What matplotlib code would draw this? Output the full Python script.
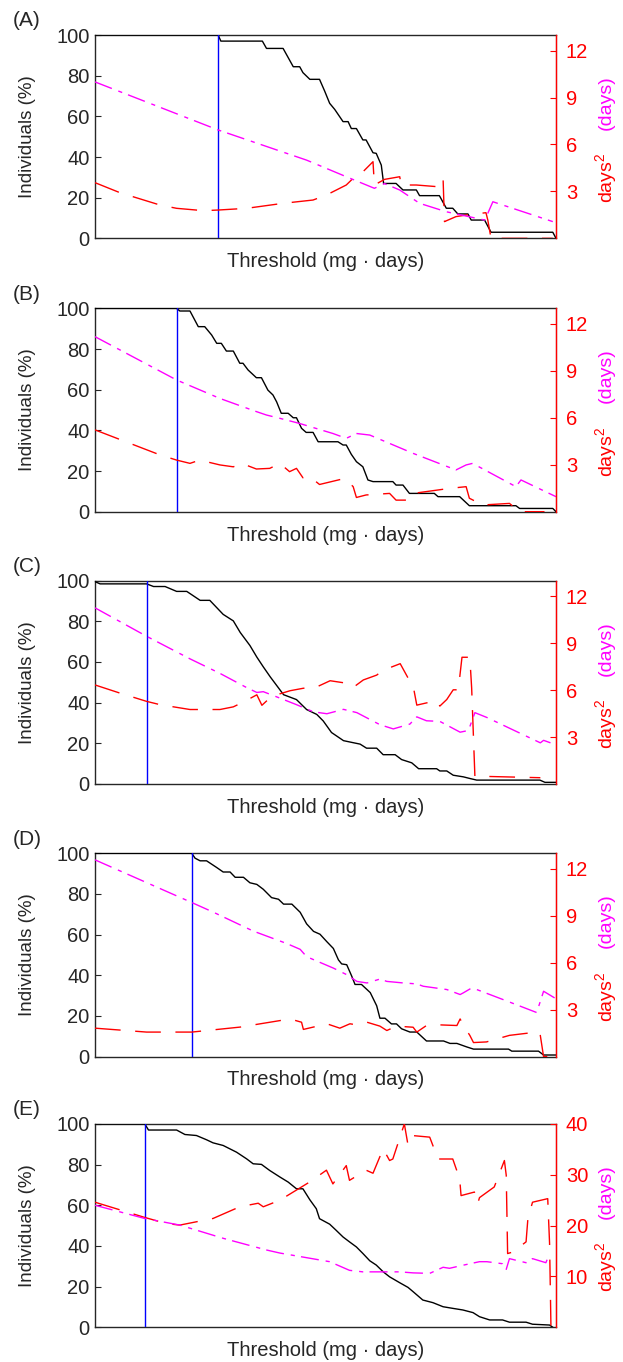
import matplotlib
matplotlib.use('Agg')
import matplotlib.pyplot as plt

plt.rcParams['font.family'] = ['Liberation Sans', 'DejaVu Sans']
plt.rcParams['mathtext.fontset'] = 'custom'
plt.rcParams['mathtext.rm'] = 'Liberation Sans'
plt.rcParams['lines.scale_dashes'] = False

panel_labels = ['(A)', '(B)', '(C)', '(D)', '(E)']
thresholds = [26.7, 17.7, 11.35, 21.0, 10.8]
right_tops = [13, 13, 13, 13, 40]
right_ticks_small = [3, 6, 9, 12]
right_ticks_large = [10, 20, 30, 40]
left_ticks = [0, 20, 40, 60, 80, 100]

# ---------------- Panel A ----------------
black_x_A = [0, 26.7, 27.3, 36.3, 37.2, 40.8, 43.0, 44.4, 45.1, 46.6, 48.7, 49.8, 50.9, 52.0, 53.8,
             54.9, 55.6, 56.7, 58.1, 58.8, 60.3, 61.0, 62.1, 62.6, 65.3, 66.8, 69.7, 70.4, 74.7,
             76.2, 77.6, 78.7, 80.9, 81.6, 84.5, 85.9, 99.3, 100]
black_y_A = [100, 100, 97, 97, 93.4, 93.4, 84.4, 84.4, 81.5, 78.2, 78.2, 72.5, 66.4, 63.4, 57.4,
             57.4, 54, 54, 48.4, 48.4, 42.1, 41.8, 36, 27, 27, 23.8, 23.8, 21, 21,
             14.8, 14.8, 12, 12, 9, 9, 3, 3, 0]
mag_x_A = [0, 26.7, 45.9, 54.5, 60.6, 62.8, 66.1, 70.4, 76.2, 84.5, 85.2, 86.3, 99.3]
mag_y_A = [10.0, 6.93, 5.0, 3.94, 3.2, 3.5, 3.09, 2.24, 1.70, 1.17, 1.6, 2.34, 1.07]
red_x_A = [0, 5.4, 14.1, 17.7, 23.5, 26.7, 32.9, 40.8, 47.3, 50.2, 54.5, 56.0, 57.8, 60.3, 60.6,
           62.8, 66.1, 66.4, 69.7, 74.4, 75.5, 75.8, 78.3, 80.5, 84.8, 85.2, 85.9, 99.3]
red_y_A = [3.56, 2.92, 2.13, 1.92, 1.77, 1.81, 1.92, 2.24, 2.45, 2.77, 3.41, 3.84, 4.16, 4.9, 3.41,
           3.77, 3.94, 3.41, 3.41, 3.3, 3.84, 1.07, 1.39, 1.49, 1.64, 1.17, 0, 0]

# ---------------- Panel B ----------------
black_x_B = [0, 17.7, 18.4, 20.6, 22.4, 23.8, 25.3, 26.4, 27.4, 28.5, 30.0, 31.4, 32.1, 33.2, 35.0,
             36.1, 37.5, 38.6, 39.4, 40.4, 41.9, 43.0, 43.7, 44.8, 45.8, 47.3, 48.4, 52.7, 53.8,
             54.5, 55.6, 56.7, 58.1, 59.2, 60.3, 64.6, 65.3, 66.8, 68.2, 73.6, 74.4, 79.1, 81.2,
             91.3, 92.1, 99.3, 100]
black_y_B = [100, 100, 98.7, 98.7, 91, 91, 86.9, 82.8, 82.8, 79, 79, 73, 73, 69.7, 65.9,
             65.9, 59.8, 57.4, 54, 48.4, 48.4, 46.2, 46.2, 41, 39, 39, 34.4, 34.4, 32.8,
             32.8, 28.2, 24.6, 22.1, 15.6, 14.8, 14.8, 13.1, 13.1, 9, 9, 7.4, 7.4, 2.95,
             2.95, 1.6, 1.6, 0]
mag_x_B = [0, 17.7, 27.1, 35.0, 37.2, 40.1, 44.4, 51.6, 54.5, 56.7, 59.6, 69.0, 78.3, 80.5, 81.9,
           91.3, 92.4, 100]
mag_y_B = [11.19, 8.42, 7.24, 6.40, 6.18, 5.97, 5.64, 5.0, 4.69, 5.0, 4.90, 3.73, 2.67, 2.99, 3.09,
           1.60, 2.03, 0.96]
red_x_B = [0, 14.1, 17.7, 20.6, 22.7, 27.1, 30.0, 31.8, 35.0, 37.9, 40.1, 42.2, 43.7, 45.1, 46.6,
           48.7, 54.2, 56.0, 56.7, 58.8, 63.9, 65.3, 67.5, 69.0, 76.9, 80.5, 81.2, 84.1, 89.9,
           92.1, 97.5]
red_y_B = [5.23, 3.63, 3.30, 3.09, 3.30, 2.99, 2.87, 3.09, 2.73, 2.77, 3.09, 2.56, 2.77, 2.17, 2.24,
           1.74, 2.13, 1.60, 0.91, 1.07, 1.17, 0.74, 0.74, 1.17, 1.49, 1.60, 0.86, 0.43, 0.53,
           0, 0]

# ---------------- Panel C ----------------
black_x_C = [0, 1.1, 11.2, 12.7, 15.2, 17.7, 19.9, 22.8, 24.9, 27.8, 30.0, 31.5, 33.6, 35.1, 36.5,
             38.0, 40.9, 43.7, 45.9, 48.1, 49.5, 51.3, 53.9, 56.0, 57.5, 58.9, 61.1, 62.5, 65.1,
             66.5, 68.7, 70.2, 74.1, 74.8, 76.3, 77.7, 79.9, 81.3, 82.8, 96.5, 97.6, 100]
black_y_C = [99.5, 98.4, 98.4, 97.1, 97.1, 94.7, 94.7, 90.3, 90.3, 83.4, 80.2, 74.5, 68.1, 62.4, 57.6,
             52.7, 43.9, 41.5, 36.6, 34.2, 31, 25.3, 21.3, 20.3, 19.6, 17.6, 17.6, 14.4, 14.4,
             12, 10.4, 7.5, 7.5, 6.4, 6.4, 4.3, 3.5, 2.7, 1.9, 1.9, 0.8, 0.8]
mag_x_C = [0, 11.2, 20.6, 27.1, 32.9, 35.1, 36.5, 40.1, 43.7, 47.4, 50.3, 53.9, 56.8, 61.8, 64.7,
           68.3, 69.8, 71.9, 74.8, 79.2, 81.0, 82.4, 85.0, 96.6, 97.3, 98.8]
mag_y_C = [11.26, 9.44, 8.0, 7.07, 6.16, 5.85, 5.9, 5.49, 5.07, 4.61, 4.49, 4.77, 4.56, 3.79, 3.52,
           3.83, 4.29, 4.04, 4.0, 3.31, 3.42, 4.56, 4.25, 2.63, 2.79, 2.63]
red_x_C = [0, 5.4, 11.2, 14.1, 20.6, 27.1, 30.0, 32.2, 35.1, 36.2, 38.3, 42.3, 45.2, 47.7, 51.0,
           54.6, 56.0, 58.2, 61.1, 62.5, 66.2, 69.1, 69.8, 74.1, 74.8, 76.3, 77.7, 78.8, 79.6,
           81.3, 81.7, 82.4, 96.6]
red_y_C = [6.33, 5.81, 5.28, 5.07, 4.76, 4.76, 4.93, 5.24, 5.70, 5.03, 5.6, 5.96, 6.12, 6.15, 6.6,
           6.44, 6.17, 6.65, 6.96, 7.27, 7.69, 6.13, 5.04, 5.33, 4.98, 5.4, 6.02, 6.02, 8.1,
           8.1, 6.13, 0.5, 0.4]

# ---------------- Panel D ----------------
black_x_D = [0, 21.0, 21.7, 22.8, 24.2, 26.4, 27.8, 29.3, 30.4, 32.2, 33.6, 35.1, 36.5, 38.3, 39.8,
             40.9, 42.7, 44.5, 45.9, 47.4, 48.8, 50.3, 51.7, 52.8, 53.5, 54.6, 55.7, 56.4, 57.8,
             59.7, 61.1, 61.8, 62.9, 64.3, 65.4, 66.5, 68.3, 69.8, 71.9, 75.6, 77.0, 78.5, 80.6,
             82.1, 89.7, 90.4, 96.2, 97.3, 100]
black_y_D = [100, 100, 97.6, 96.3, 96.3, 93, 90.8, 90.8, 88.2, 88.2, 85.5, 84.7, 82.3, 78.2, 77.4,
             75, 75, 71, 65.3, 61.6, 60.2, 56.5, 53.2, 47.6, 45.6, 45.2, 39.5, 35.5, 35.5,
             31.5, 25, 18.9, 18.9, 16.1, 16.1, 13.7, 12.1, 12.1, 7.7, 7.7, 6.5, 6.5, 4.8,
             3.7, 3.7, 2.7, 2.7, 0.8, 0.8]
mag_x_D = [0, 21.0, 25.7, 34.3, 41.6, 44.5, 45.9, 51.7, 54.6, 56.8, 59.0, 61.8, 63.3, 66.9, 69.8,
           71.2, 76.3, 79.2, 79.9, 81.7, 82.8, 89.3, 95.8, 96.5, 97.3, 100]
mag_y_D = [12.58, 9.85, 9.23, 8.03, 7.23, 6.86, 6.39, 5.66, 5.24, 4.81, 4.71, 4.96, 4.81, 4.71, 4.65,
           4.5, 4.29, 3.97, 4.08, 4.39, 4.29, 3.56, 2.82, 3.45, 4.18, 3.7]
red_x_D = [0, 11.2, 21.0, 31.5, 42.3, 44.8, 45.2, 48.8, 50.3, 53.1, 55.3, 56.8, 59.0, 61.8, 63.3,
           65.4, 69.0, 69.8, 71.9, 74.8, 78.5, 79.2, 79.9, 81.3, 82.1, 84.9, 89.9, 95.8, 96.5,
           97.3, 100]
red_y_D = [1.82, 1.57, 1.57, 1.89, 2.41, 2.2, 1.74, 1.99, 2.1, 1.82, 2.1, 2.03, 2.2, 1.95, 1.67,
           1.95, 1.88, 1.57, 1.99, 2.03, 1.99, 2.41, 1.99, 1.36, 0.9, 0.94, 1.36, 1.57, 1.53,
           0, 0]

# ---------------- Panel E ----------------
black_x_E = [0, 10.8, 11.6, 17.7, 19.5, 22.0, 24.2, 25.6, 27.8, 30.7, 32.9, 34.3, 36.1, 37.9, 40.1,
             41.9, 43.7, 45.1, 46.6, 48.0, 48.7, 50.9, 52.3, 53.8, 55.2, 56.7, 58.1, 59.6, 61.0,
             62.5, 63.9, 66.1, 67.9, 69.0, 71.1, 73.3, 75.5, 77.6, 79.8, 82.0, 83.4, 85.6, 88.4,
             89.9, 93.5, 94.9, 98.6, 99.3]
black_y_E = [100, 100, 97, 97, 94.8, 94.3, 92.2, 90.7, 89.4, 86.1, 82.8, 80.4, 80.1, 77.1, 73.9,
             71.4, 68.1, 68.1, 62.7, 58.3, 53.4, 50.7, 47.7, 44.4, 42, 39.5, 36.3, 32.7, 30.6,
             27.3, 24.8, 21.9, 19.6, 17.5, 13.4, 12.1, 10.1, 9.3, 8.5, 7.2, 5.2, 3.6, 3.6,
             2.5, 2.5, 1.5, 1.1, 0]
mag_x_E = [0, 10.8, 18.4, 27.8, 37.2, 40.1, 50.9, 55.2, 58.1, 66.1, 69.0, 72.6, 75.5, 76.9, 79.8,
           83.4, 85.0, 88.4, 89.2, 89.9, 93.5, 94.9, 97.8, 98.6]
mag_y_E = [24.0, 21.4, 20.1, 17.5, 15.2, 14.6, 12.9, 11.2, 10.9, 10.9, 10.7, 10.6, 11.8, 11.6, 12.2,
           12.9, 12.9, 12.5, 11.4, 13.5, 12.7, 13.5, 12.7, 14.5]
red_x_E = [0, 10.8, 15.5, 18.4, 25.6, 31.4, 35.4, 36.5, 40.1, 46.6, 50.2, 51.6, 54.5, 55.2, 58.8,
           60.3, 62.5, 63.9, 64.6, 67.1, 67.9, 69.0, 72.6, 74.4, 77.6, 79.1, 79.4, 82.3, 83.0,
           83.4, 86.6, 88.8, 89.2, 89.5, 90.6, 93.5, 93.9, 94.9, 98.2, 98.6, 98.9]
red_y_E = [24.6, 21.6, 20.4, 20.1, 21.4, 23.7, 24.4, 23.7, 25.0, 28.6, 30.9, 28.2, 31.8, 28.9, 30.9,
           30.3, 35.1, 32.8, 33.1, 40.0, 35.8, 37.7, 37.4, 33.1, 33.1, 29.2, 25.9, 26.6, 24.3,
           25.5, 27.6, 32.8, 29.9, 14.5, 14.8, 16.8, 21.4, 24.6, 25.3, 16.5, 0]

black_xs = [black_x_A, black_x_B, black_x_C, black_x_D, black_x_E]
black_ys = [black_y_A, black_y_B, black_y_C, black_y_D, black_y_E]
mag_xs = [mag_x_A, mag_x_B, mag_x_C, mag_x_D, mag_x_E]
mag_ys = [mag_y_A, mag_y_B, mag_y_C, mag_y_D, mag_y_E]
red_xs = [red_x_A, red_x_B, red_x_C, red_x_D, red_x_E]
red_ys = [red_y_A, red_y_B, red_y_C, red_y_D, red_y_E]

fig = plt.figure(figsize=(6.23, 13.62), dpi=100)
bottoms = [0.8250, 0.6243, 0.4244, 0.2242, 0.0255]
left, width, height = 0.1525, 0.740, 0.1493
fs_tick = 14.5
fs_lab = 14.5
fs_ylab = 13.5
dark = '#262626'

for i in range(5):
    ax = fig.add_axes([left, bottoms[i], width, height])
    ax.plot(black_xs[i], black_ys[i], color='black', lw=1.0, zorder=3)
    ax.plot([thresholds[i], thresholds[i]], [0, 100], color='#0000ff', lw=1.0, zorder=3)
    ax.set_xlim(0, 100)
    ax.set_ylim(0, 100)
    ax.set_xticks([])
    ax.set_yticks(left_ticks)
    ax.tick_params(axis='y', direction='in', length=4, labelsize=fs_tick, pad=4,
                   colors=dark, labelcolor=dark)
    for s in ['left', 'bottom', 'top']:
        ax.spines[s].set_color(dark)
        ax.spines[s].set_linewidth(1.0)
    ax.set_xlabel('Threshold (mg · days)', fontsize=fs_lab, color=dark)
    ax.xaxis.set_label_coords(0.5, -0.068)
    ax.set_ylabel('Individuals (%)', fontsize=fs_ylab, color=dark)
    ax.yaxis.set_label_coords(-0.128, 0.5)
    ax.text(-0.178, 1.069, panel_labels[i], transform=ax.transAxes, fontsize=15,
            color=dark, ha='left', va='center')

    ax2 = ax.twinx()
    ax2.plot(red_xs[i], red_ys[i], color='red', lw=1.0, dashes=(18.5, 10.5))
    ax2.plot(mag_xs[i], mag_ys[i], color='magenta', lw=1.0, dashes=(13, 5, 3, 4.5))
    ax2.set_xlim(0, 100)
    ax2.set_ylim(0, right_tops[i])
    ax2.set_yticks(right_ticks_large if i == 4 else right_ticks_small)
    ax2.spines['right'].set_color('red')
    ax2.spines['right'].set_linewidth(1.0)
    for s in ['left', 'bottom', 'top']:
        ax2.spines[s].set_visible(False)
    ax2.tick_params(axis='y', direction='in', length=4, labelsize=fs_tick, pad=7,
                    colors='red', labelcolor='red')
    ax2.text(1.11, 0.668, '(days)', transform=ax2.transAxes, rotation=90,
             color='magenta', fontsize=14, ha='center', va='center')
    ax2.text(1.11, 0.295, 'days$^{2}$', transform=ax2.transAxes, rotation=90,
             color='red', fontsize=14, ha='center', va='center')

fig.savefig('out.png', dpi=100)
